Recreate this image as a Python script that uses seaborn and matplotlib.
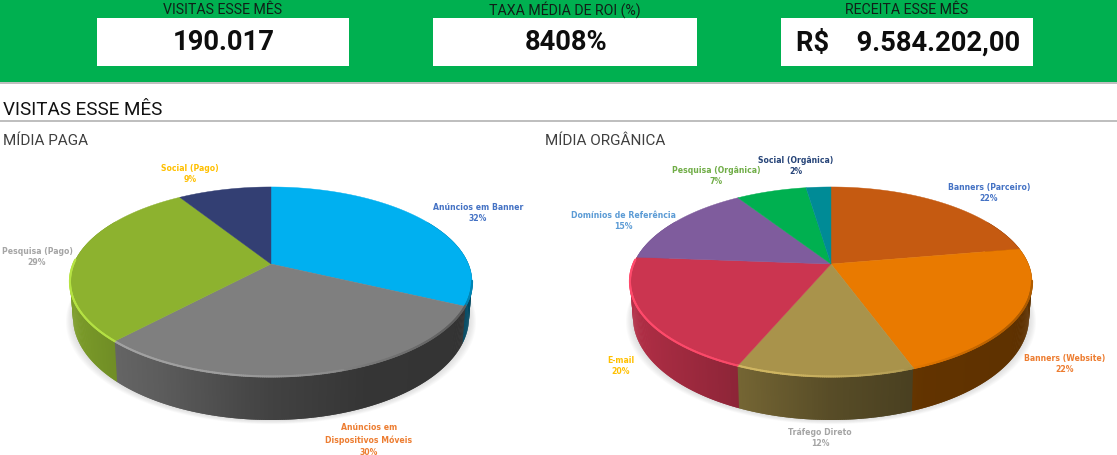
import numpy as np
import seaborn as sns
import matplotlib.pyplot as plt
from matplotlib.collections import PolyCollection, LineCollection
from matplotlib.colors import to_rgb
from matplotlib.patches import Rectangle

kpi_titles = ["VISITAS ESSE MÊS", "TAXA MÉDIA DE ROI (%)", "RECEITA ESSE MÊS"]
kpi_values = ["190.017", "8408%", "R$    9.584.202,00"]

paid_names = ["Anúncios em Banner", "Anúncios em\nDispositivos Móveis", "Pesquisa (Pago)", "Social (Pago)"]
paid_values = [32, 30, 29, 9]
paid_colors = ["#00B0F0", "#7F7F7F", "#8DB22F", "#333F73"]
paid_label_colors = ["#4472C4", "#ED7D31", "#A5A5A5", "#FFC000"]

organic_names = ["Banners (Parceiro)", "Banners (Website)", "Tráfego Direto", "E-mail",
                 "Domínios de Referência", "Pesquisa (Orgânica)", "Social (Orgânica)"]
organic_values = [22.3, 22.1, 12.0, 19.8, 14.6, 6.8, 2.4]
organic_colors = ["#C55A11", "#E97A00", "#A9934B", "#CB3550", "#7F5C9D", "#00B050", "#008B96"]
organic_label_colors = ["#4472C4", "#ED7D31", "#A5A5A5", "#FFC000", "#5B9BD5", "#70AD47", "#264478"]

HEAD_FONT = "Roboto"
GREEN = "#00B050"
LINE = "#BFBFBF"


def project(angle, rx=197.4, a=91.6, c=0.189):
    # circle seen in perspective, angle clockwise from 12 o'clock
    u, v = np.sin(angle), np.cos(angle)
    d = 1 + c * v
    return rx * u / d, a * v / d


def top_rim(angle, cx):
    x, y = project(angle)
    return cx + x, 264.0 - y


def bottom_rim(angle, cx, grow=0.0):
    x, y = project(angle)
    return cx + x * (0.985 + grow), 264.0 - (1.08 * y - 34) + grow * 120


def draw_pie(ax, values, colors, cx):
    values = np.array(values, dtype=float)
    edges = np.concatenate([[0], np.cumsum(values) / values.sum()]) * 2 * np.pi
    fine = np.radians(np.arange(0, 360.5, 0.5))

    # soft shadow
    for grow in np.linspace(0.035, 0.005, 7):
        bx, by = bottom_rim(fine, cx, grow)
        ax.fill(bx, by, color="#808080", alpha=0.035, lw=0, zorder=1)

    # side wall, strips overlap the next one so no seams show
    strips, strip_cols = [], []
    wall = np.radians(np.arange(60, 300, 0.5))
    step = np.radians(1.0)
    for a0 in wall:
        a1 = a0 + step
        tx0, ty0 = top_rim(a0, cx)
        tx1, ty1 = top_rim(a1, cx)
        bx0, by0 = bottom_rim(a0, cx)
        bx1, by1 = bottom_rim(a1, cx)
        strips.append([(tx0, ty0), (tx1, ty1), (bx1, by1), (bx0, by0)])
        k = np.searchsorted(edges, a0 + step / 4) - 1
        pos = np.sin(a0)
        shade = np.interp(pos, [-1, -0.45, 0, 0.4, 1], [0.9, 0.72, 0.52, 0.42, 0.4])
        strip_cols.append(tuple(np.array(to_rgb(colors[k])) * shade))
    ax.add_collection(PolyCollection(strips, facecolors=strip_cols, edgecolors="none",
                                     linewidths=0, zorder=2))

    # top face
    for k, col in enumerate(colors):
        ang = np.linspace(edges[k], edges[k + 1], 200)
        x, y = top_rim(ang, cx)
        ax.fill(np.r_[cx, x], np.r_[264.0, y], color=col, lw=0.3, ec=col, zorder=3)

    # bevel along the front edge
    segs, seg_cols = [], []
    rim = fine[(fine > np.radians(100)) & (fine < np.radians(273))]
    for a0, a1 in zip(rim[:-1], rim[1:]):
        m = (a0 + a1) / 2
        x0, y0 = top_rim(a0, cx)
        x1, y1 = top_rim(a1, cx)
        segs.append([(x0, y0 - 0.5), (x1, y1 - 0.5)])
        k = np.searchsorted(edges, m) - 1
        base = np.array(to_rgb(colors[k]))
        pos = np.sin(m)
        # brighter on the left, darker on the right, keeping the slice's hue
        gain = np.interp(pos, [-1, -0.2, 0.3, 0.8], [1.22, 1.16, 1.0, 0.75])
        col = np.clip(base * gain + 0.04 * (gain > 1), 0, 1)
        seg_cols.append(tuple(col))
    ax.add_collection(LineCollection(segs, colors=seg_cols, linewidths=1.5, capstyle="round", zorder=4))


def add_labels(ax, names, values, colors, positions):
    for name, val, col, (x, y) in zip(names, values, colors, positions):
        ax.text(x, y, f"{name}\n{val:.0f}%", color=col, ha="center", va="center", fontsize=5.6,
                fontweight="bold", family="DejaVu Sans", linespacing=1.4, zorder=6)


sns.set_theme(style="white")
plt.rcParams["font.family"] = [HEAD_FONT, "DejaVu Sans"]

fig = plt.figure(figsize=(11.17, 4.55), dpi=100)
ax = fig.add_axes([0, 0, 1, 1])
ax.set_xlim(0, 1117)
ax.set_ylim(455, 0)
ax.axis("off")

# top band
ax.add_patch(Rectangle((0, 0), 1117, 82, color=GREEN, lw=0))
ax.add_patch(Rectangle((0, 82), 1117, 2, color=LINE, lw=0))
ax.add_patch(Rectangle((0, 120), 1117, 2, color=LINE, lw=0))

boxes = [(97, 252), (433, 264), (781, 252)]
for (bx, bw), title, val in zip(boxes, kpi_titles, kpi_values):
    ax.add_patch(Rectangle((bx, 18), bw, 48, color="white", lw=0))
    ax.text(bx + bw / 2, 9.5, title, ha="center", va="center", fontsize=10.2, color="#102018")
    ax.text(bx + bw / 2 + 1, 43, val, ha="center", va="center", fontsize=19.7, fontweight="bold", color="#0D0D0D")

ax.text(3, 110, "VISITAS ESSE MÊS", ha="left", va="center", fontsize=13.6, color="#111111")
ax.text(3, 141, "MÍDIA PAGA", ha="left", va="center", fontsize=11, color="#404040")
ax.text(545, 141, "MÍDIA ORGÂNICA", ha="left", va="center", fontsize=11, color="#404040")

draw_pie(ax, paid_values, paid_colors, 271)
draw_pie(ax, organic_values, organic_colors, 831)

add_labels(ax, paid_names, paid_values, paid_label_colors, [(478, 213), (369, 440), (37, 257), (190, 174)])
add_labels(ax, organic_names, organic_values, organic_label_colors,
           [(989, 193), (1065, 364), (820, 438), (621, 366), (623, 221), (716, 176), (796, 166)])

fig.savefig("out.png", dpi=100)
